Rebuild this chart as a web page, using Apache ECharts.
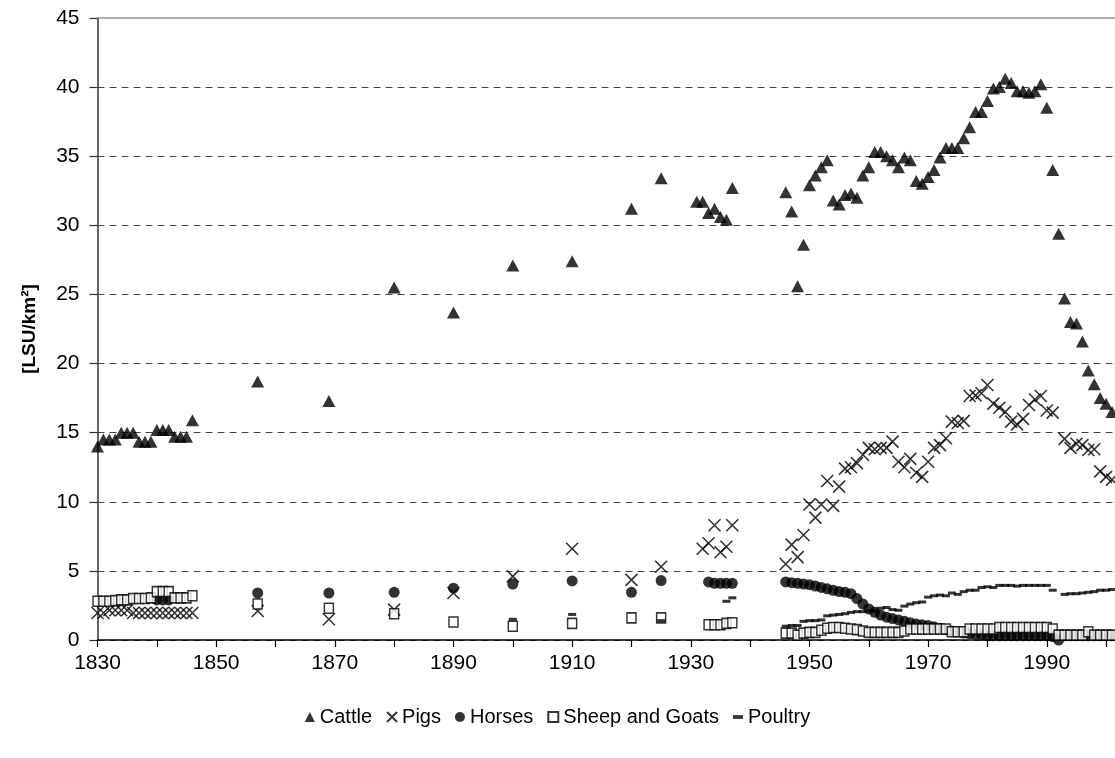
<!DOCTYPE html>
<html>
<head>
<meta charset="utf-8">
<script src="https://cdn.jsdelivr.net/npm/echarts@6/dist/echarts.min.js"></script>
<style>
  html, body { margin: 0; padding: 0; background: #fff; }
  #chart { width: 1115px; height: 758px; }
</style>
</head>
<body>
<div id="chart"></div>
<script>
// livestock density [LSU/km²], pairs of [year, value]
const cattle = [
  [1830, 14.0], [1831, 14.5], [1832, 14.5], [1833, 14.5], [1834, 15.0], [1835, 15.0], [1836, 15.0],
  [1837, 14.35], [1838, 14.35], [1839, 14.35], [1840, 15.2], [1841, 15.2], [1842, 15.2],
  [1843, 14.7], [1844, 14.7], [1845, 14.7], [1846, 15.9],
  [1857, 18.7], [1869, 17.3], [1880, 25.5], [1890, 23.7], [1900, 27.1], [1910, 27.4],
  [1920, 31.2], [1925, 33.4],
  [1931, 31.7], [1932, 31.7], [1933, 30.9], [1934, 31.2], [1935, 30.6], [1936, 30.4], [1937, 32.7],
  [1946, 32.4], [1947, 31.0], [1948, 25.6], [1949, 28.6], [1950, 32.9], [1951, 33.6], [1952, 34.2],
  [1953, 34.7], [1954, 31.8], [1955, 31.5], [1956, 32.2], [1957, 32.3], [1958, 32.0], [1959, 33.6],
  [1960, 34.2], [1961, 35.3], [1962, 35.3], [1963, 35.0], [1964, 34.7], [1965, 34.2], [1966, 34.9],
  [1967, 34.7], [1968, 33.2], [1969, 33.0], [1970, 33.5], [1971, 34.0], [1972, 34.9], [1973, 35.6],
  [1974, 35.6], [1975, 35.6], [1976, 36.3], [1977, 37.1], [1978, 38.2], [1979, 38.2], [1980, 39.0],
  [1981, 39.9], [1982, 40.0], [1983, 40.6], [1984, 40.3], [1985, 39.7], [1986, 39.7], [1987, 39.6],
  [1988, 39.7], [1989, 40.2], [1990, 38.5], [1991, 34.0], [1992, 29.4], [1993, 24.7], [1994, 23.0],
  [1995, 22.9], [1996, 21.6], [1997, 19.5], [1998, 18.5], [1999, 17.5], [2000, 17.1], [2001, 16.5]
];

const pigs = [
  [1830, 1.95], [1831, 1.95], [1832, 2.15], [1833, 2.15], [1834, 2.15], [1835, 2.15], [1836, 1.95],
  [1837, 1.95], [1838, 1.95], [1839, 1.95], [1840, 1.95], [1841, 1.95], [1842, 1.95], [1843, 1.95],
  [1844, 1.95], [1845, 1.95], [1846, 1.95],
  [1857, 2.1], [1869, 1.5], [1880, 2.2], [1890, 3.4], [1900, 4.6], [1910, 6.6], [1920, 4.35], [1925, 5.3],
  [1932, 6.6], [1933, 7.0], [1934, 8.3], [1935, 6.35], [1936, 6.75], [1937, 8.3],
  [1946, 5.5], [1947, 6.9], [1948, 6.0], [1949, 7.6], [1950, 9.8], [1951, 8.85], [1952, 9.8],
  [1953, 11.5], [1954, 9.7], [1955, 11.1], [1956, 12.4], [1957, 12.5], [1958, 12.8], [1959, 13.4],
  [1960, 13.9], [1961, 13.8], [1962, 13.9], [1963, 13.9], [1964, 14.35], [1965, 12.9], [1966, 12.5],
  [1967, 13.1], [1968, 12.1], [1969, 11.8], [1970, 12.9], [1971, 13.9], [1972, 14.1], [1973, 14.6],
  [1974, 15.8], [1975, 15.7], [1976, 15.85], [1977, 17.65], [1978, 17.7], [1979, 17.85], [1980, 18.45],
  [1981, 17.1], [1982, 16.8], [1983, 16.5], [1984, 15.8], [1985, 15.6], [1986, 16.0], [1987, 17.0],
  [1988, 17.4], [1989, 17.65], [1990, 16.6], [1991, 16.45], [1993, 14.55], [1994, 13.9], [1995, 14.2],
  [1996, 14.1], [1997, 13.75], [1998, 13.8], [1999, 12.2], [2000, 11.8], [2001, 11.6]
];

const horses = [
  [1840, 2.9], [1841, 2.9], [1842, 2.9],
  [1857, 3.4], [1869, 3.4], [1880, 3.45], [1890, 3.75], [1900, 4.05], [1910, 4.27], [1920, 3.45], [1925, 4.3],
  [1933, 4.2], [1934, 4.1], [1935, 4.1], [1936, 4.1], [1937, 4.1],
  [1946, 4.2], [1947, 4.15], [1948, 4.1], [1949, 4.05], [1950, 4.0], [1951, 3.9], [1952, 3.8],
  [1953, 3.7], [1954, 3.6], [1955, 3.5], [1956, 3.45], [1957, 3.35], [1958, 3.0], [1959, 2.6],
  [1960, 2.25], [1961, 2.0], [1962, 1.8], [1963, 1.65], [1964, 1.55], [1965, 1.45], [1966, 1.35],
  [1967, 1.25], [1968, 1.15], [1969, 1.1], [1970, 1.05], [1971, 0.95], [1972, 0.85], [1973, 0.75],
  [1974, 0.65], [1975, 0.6], [1976, 0.5], [1977, 0.45], [1978, 0.4], [1979, 0.35], [1980, 0.3],
  [1981, 0.3], [1982, 0.3], [1983, 0.3], [1984, 0.3], [1985, 0.3], [1986, 0.3], [1987, 0.3],
  [1988, 0.3], [1989, 0.3], [1990, 0.3], [1991, 0.25], [1992, 0.0], [1993, 0.3], [1994, 0.3],
  [1995, 0.3], [1996, 0.3], [1997, 0.3], [1998, 0.3], [1999, 0.3], [2000, 0.3], [2001, 0.3]
];

const sheepGoats = [
  [1830, 2.8], [1831, 2.8], [1832, 2.8], [1833, 2.85], [1834, 2.9], [1835, 2.9], [1836, 3.0],
  [1837, 3.0], [1838, 3.0], [1839, 3.05], [1840, 3.5], [1841, 3.5], [1842, 3.5], [1843, 3.05],
  [1844, 3.05], [1845, 3.05], [1846, 3.2],
  [1857, 2.6], [1869, 2.3], [1880, 1.9], [1890, 1.3], [1900, 1.0], [1910, 1.2], [1920, 1.6], [1925, 1.6],
  [1933, 1.1], [1934, 1.1], [1935, 1.1], [1936, 1.2], [1937, 1.25],
  [1946, 0.5], [1947, 0.5], [1948, 0.35], [1949, 0.5], [1950, 0.55], [1951, 0.55], [1952, 0.7],
  [1953, 0.85], [1954, 0.9], [1955, 0.9], [1956, 0.85], [1957, 0.8], [1958, 0.75], [1959, 0.65],
  [1960, 0.55], [1961, 0.55], [1962, 0.55], [1963, 0.55], [1964, 0.55], [1965, 0.55], [1966, 0.65],
  [1967, 0.8], [1968, 0.8], [1969, 0.8], [1970, 0.8], [1971, 0.8], [1972, 0.8], [1973, 0.8],
  [1974, 0.6], [1975, 0.6], [1976, 0.6], [1977, 0.8], [1978, 0.8], [1979, 0.8], [1980, 0.8],
  [1981, 0.8], [1982, 0.9], [1983, 0.9], [1984, 0.9], [1985, 0.9], [1986, 0.9], [1987, 0.9],
  [1988, 0.9], [1989, 0.9], [1990, 0.9], [1991, 0.8], [1992, 0.35], [1993, 0.35], [1994, 0.35],
  [1995, 0.35], [1996, 0.35], [1997, 0.6], [1998, 0.35], [1999, 0.35], [2000, 0.35], [2001, 0.35]
];

const poultry = [
  [1900, 1.5], [1910, 1.85], [1925, 1.4], [1936, 2.8], [1937, 3.05],
  [1946, 1.0], [1947, 1.05], [1948, 1.05], [1949, 1.35], [1950, 1.4], [1951, 1.4], [1952, 1.45],
  [1953, 1.75], [1954, 1.8], [1955, 1.85], [1956, 1.9], [1957, 2.0], [1958, 2.05], [1959, 2.05],
  [1960, 2.1], [1961, 2.1], [1962, 2.3], [1963, 2.35], [1964, 2.2], [1965, 2.15], [1966, 2.45],
  [1967, 2.6], [1968, 2.7], [1969, 2.75], [1970, 3.1], [1971, 3.2], [1972, 3.25], [1973, 3.2],
  [1974, 3.4], [1975, 3.3], [1976, 3.5], [1977, 3.6], [1978, 3.6], [1979, 3.8], [1980, 3.85],
  [1981, 3.8], [1982, 3.95], [1983, 3.95], [1984, 3.95], [1985, 3.9], [1986, 3.95], [1987, 3.95],
  [1988, 3.95], [1989, 3.95], [1990, 3.95], [1991, 3.6], [1993, 3.3], [1994, 3.35], [1995, 3.35],
  [1996, 3.4], [1997, 3.45], [1998, 3.5], [1999, 3.6], [2000, 3.6], [2001, 3.65]
];

const seriesNames = ['Cattle', 'Pigs', 'Horses', 'Sheep and Goats', 'Poultry'];

const FONT = '"Liberation Sans", Arial, sans-serif';
const crossPath = 'path://M0,0L10,10M10,0L0,10';

const chart = echarts.init(document.getElementById('chart'), null, { renderer: 'canvas' });

chart.setOption({
  animation: false,
  backgroundColor: '#fff',
  textStyle: { fontFamily: FONT, color: '#000' },
  grid: {
    left: 97.5,
    top: 18,
    bottom: 118,
    right: 0
  },
  legend: {
    bottom: 26,
    left: 'center',
    itemWidth: 10,
    itemHeight: 10,
    itemGap: 14,
    textStyle: { fontFamily: FONT, fontSize: 20, color: '#000' },
    data: [
      { name: 'Cattle', icon: 'triangle' },
      { name: 'Pigs', icon: crossPath },
      { name: 'Horses', icon: 'circle' },
      { name: 'Sheep and Goats', icon: 'rect' },
      { name: 'Poultry', icon: 'path://M0,0H8V3H0Z' }
    ]
  },
  xAxis: [
    {
      type: 'value',
      min: 1830,
      max: 2001.5,
      interval: 10,
      axisLine: { onZero: false, lineStyle: { color: '#000', width: 1.5 } },
      axisTick: { show: true, length: 7, lineStyle: { color: '#000', width: 1.2 } },
      axisLabel: {
        margin: 13,
        fontSize: 21,
        color: '#000',
        fontFamily: FONT,
        showMaxLabel: false,
        formatter: v => (v % 20 === 10 ? String(v) : '')
      },
      splitLine: { show: false }
    },
    {
      // plot-area top border
      type: 'value',
      position: 'top',
      min: 1830,
      max: 2001.5,
      interval: 10,
      axisLine: { show: true, onZero: false, lineStyle: { color: '#999', width: 1.5 } },
      axisTick: { show: false },
      axisLabel: { show: false },
      splitLine: { show: false }
    }
  ],
  yAxis: {
    type: 'value',
    min: 0,
    max: 45,
    interval: 5,
    name: '[LSU/km²]',
    nameLocation: 'middle',
    nameGap: 58,
    nameRotate: 90,
    nameTextStyle: { fontFamily: FONT, fontSize: 19, fontWeight: 'bold', color: '#000' },
    axisLine: { show: true, lineStyle: { color: '#333', width: 1.5 } },
    axisTick: { show: true, length: 8, lineStyle: { color: '#333', width: 1.2 } },
    axisLabel: { margin: 18, fontSize: 21, color: '#000', fontFamily: FONT },
    splitLine: {
      show: true,
      lineStyle: {
        type: [7, 5],
        width: 1,
        color: ['#444', '#444', '#444', '#444', '#444', '#444', '#444', '#444', '#444', 'rgba(0,0,0,0)']
      }
    }
  },
  series: [
    {
      name: seriesNames[0],
      type: 'scatter',
      data: cattle,
      symbol: 'triangle',
      symbolSize: [13, 12],
      itemStyle: { color: '#000' }
    },
    {
      name: seriesNames[1],
      type: 'scatter',
      data: pigs,
      symbol: crossPath,
      symbolSize: 12,
      itemStyle: { color: 'rgba(0,0,0,0)', borderColor: '#000', borderWidth: 1.6 }
    },
    {
      name: seriesNames[2],
      type: 'scatter',
      data: horses,
      symbol: 'circle',
      symbolSize: 11,
      itemStyle: { color: '#000' }
    },
    {
      name: seriesNames[3],
      type: 'scatter',
      data: sheepGoats,
      symbol: 'rect',
      symbolSize: [9, 10],
      itemStyle: { color: '#fff', borderColor: '#000', borderWidth: 1.5 }
    },
    {
      name: seriesNames[4],
      type: 'scatter',
      data: poultry,
      symbol: 'rect',
      symbolSize: [8, 3],
      itemStyle: { color: '#000' }
    }
  ]
});
</script>
</body>
</html>
